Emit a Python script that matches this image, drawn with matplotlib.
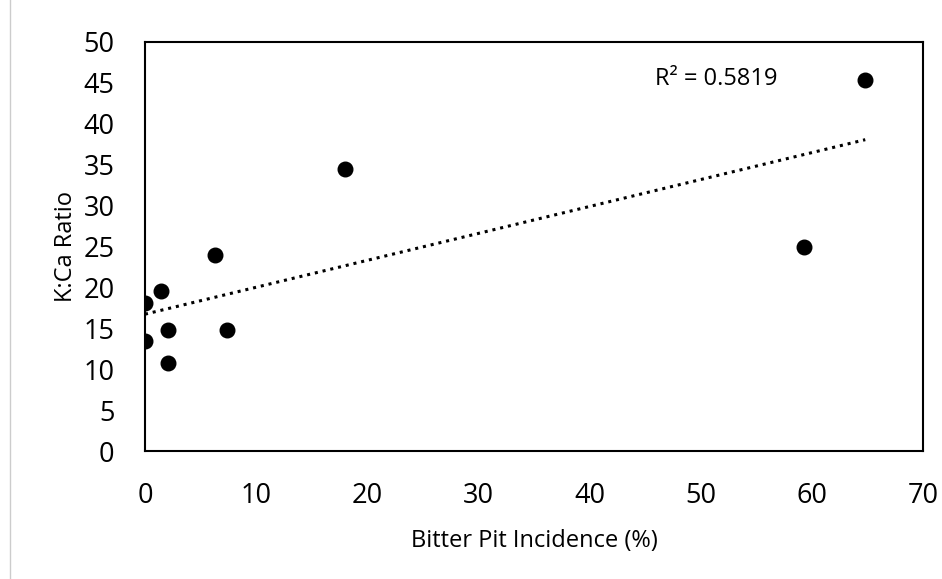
import numpy as np
import matplotlib
matplotlib.use("Agg")
import matplotlib.pyplot as plt
from matplotlib.lines import Line2D

# bitter pit incidence (%) vs K:Ca ratio
bitter_pit = [0.0, 0.0, 1.4, 2.1, 2.1, 6.3, 7.4, 18.0, 59.3, 64.8]
kca_ratio = [18.1, 13.5, 19.6, 14.8, 10.8, 24.0, 14.8, 34.5, 25.0, 45.3]
r2_label = "R² = 0.5819"

plt.rcParams['font.family'] = ['Open Sans', 'DejaVu Sans']

fig = plt.figure(figsize=(9.42, 5.79), dpi=100)
ax = fig.add_axes([0.1539, 0.221, 0.826, 0.7065])

x = np.array(bitter_pit)
y = np.array(kca_ratio)
ax.scatter(x, y, s=110, color='black', zorder=3)

# linear trendline
slope, icpt = np.polyfit(x, y, 1)
xl = np.array([0, x.max()])
ax.plot(xl, slope * xl + icpt, color='black', lw=2.2, ls=(0, (1, 1.6)))

ax.text(45.9, 45.5, r2_label, fontsize=17, va='center', ha='left')

ax.set_xlim(0, 70)
ax.set_ylim(0, 50)
ax.set_xticks(range(0, 71, 10))
ax.set_yticks(range(0, 51, 5))
ax.tick_params(length=0, labelsize=19.5, pad=22)
ax.tick_params(axis='x', pad=22)
for sp in ax.spines.values():
    sp.set_linewidth(1.5)

ax.set_xlabel("Bitter Pit Incidence (%)", fontsize=17, labelpad=14)
ax.set_ylabel("K:Ca Ratio", fontsize=17, labelpad=4)

# faint border line at left edge of the original image
fig.add_artist(Line2D([10 / 942, 10 / 942], [0, 1], color='#cccccc', lw=1))

fig.savefig("out.png", dpi=100)
